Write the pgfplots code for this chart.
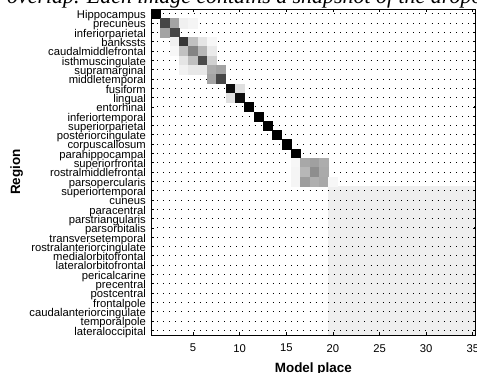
\documentclass[border=0pt]{standalone}
\usepackage{fontspec}
\setmainfont{Liberation Sans}
\newfontfamily\serifit{Liberation Serif}
\usepackage{pgfplots}
\pgfplotsset{compat=1.18}
\begin{document}
\begin{tikzpicture}
\begin{axis}[
  at={(0,0)}, anchor=south west,
  x=9.33bp, y=9.31bp, y dir=reverse,
  xmin=0.5, xmax=35.3, ymin=0.5, ymax=35.5,
  axis on top,
  colormap={invgray}{rgb255(0cm)=(255,255,255); rgb255(1cm)=(0,0,0)},
  point meta min=0, point meta max=1,
  xtick={5,10,...,35},
  ytick={1,...,35},
  yticklabels={Hippocampus,precuneus,inferiorparietal,bankssts,caudalmiddlefrontal,isthmuscingulate,supramarginal,middletemporal,fusiform,lingual,entorhinal,inferiortemporal,superiorparietal,posteriorcingulate,corpuscallosum,parahippocampal,superiorfrontal,rostralmiddlefrontal,parsopercularis,superiortemporal,cuneus,paracentral,parstriangularis,parsorbitalis,transversetemporal,rostralanteriorcingulate,medialorbitofrontal,lateralorbitofrontal,pericalcarine,precentral,postcentral,frontalpole,caudalanteriorcingulate,temporalpole,lateraloccipital},
  tick align=inside,
  major tick length=3bp,
  tick style={black, line width=0.8bp},
  axis line style={black, line width=0.9bp},
  ymajorgrids,
  major grid style={black, line width=0.9bp, dash pattern=on 0.9bp off 5.2bp},
  /pgf/number format/assume math mode=true,
  tick label style={font=\fontsize{11.3}{12}\selectfont},
  yticklabel style={inner sep=0pt, xshift=-5bp, yshift=-2.3bp, text height=0.75em, text depth=0.25em, anchor=east},
  xticklabel style={inner sep=0pt, yshift=-9bp, anchor=north},
  xlabel={Model place}, ylabel={Region},
  label style={font=\fontsize{13.5}{15}\selectfont\bfseries},
  xlabel style={at={(axis description cs:0.5,0)}, anchor=base, yshift=-37bp},
  ylabel style={at={(axis description cs:-0.4034,0.5)}, anchor=base},
]
\addplot[draw=none, fill={rgb,255:red,239;green,239;blue,239}] coordinates {(19.5,19.5) (35.5,19.5) (35.5,35.5) (19.5,35.5)} -- cycle;
\addplot[scatter, only marks, mark=square*, mark size=4.55bp, point meta=explicit,
  scatter/use mapped color={draw=mapped color, fill=mapped color},
  mark options={line width=0.25bp}] table[x=x, y=y, meta=v] {
x y v
1 1 1.0
2 2 0.72
3 2 0.36
4 2 0.06
5 2 0.04
2 3 0.36
3 3 0.72
3 4 0.06
4 4 0.78
5 4 0.24
6 4 0.10
7 4 0.03
3 5 0.03
4 5 0.24
5 5 0.48
6 5 0.28
7 5 0.08
4 6 0.10
5 6 0.25
6 6 0.70
7 6 0.18
4 7 0.05
5 7 0.09
6 7 0.09
7 7 0.32
8 7 0.36
7 8 0.36
8 8 0.72
9 9 0.94
10 9 0.12
9 10 0.12
10 10 0.94
11 11 1.0
12 12 1.0
13 13 1.0
14 14 1.0
15 15 1.0
16 16 1.0
16 17 0.03
17 17 0.34
18 17 0.37
19 17 0.32
16 18 0.04
17 18 0.28
18 18 0.44
19 18 0.33
16 19 0.04
17 19 0.38
18 19 0.31
19 19 0.34
20 19 0.03
};
\end{axis}
\node[anchor=base west, inner sep=0pt, font=\serifit\itshape\fontsize{22}{26}\selectfont] at (-144bp,331bp) {overlap. Each image contains a snapshot of the dropout};
\pgfresetboundingbox
\useasboundingbox (-151bp,-38bp) rectangle (326bp,335bp);
\end{tikzpicture}
\end{document}
